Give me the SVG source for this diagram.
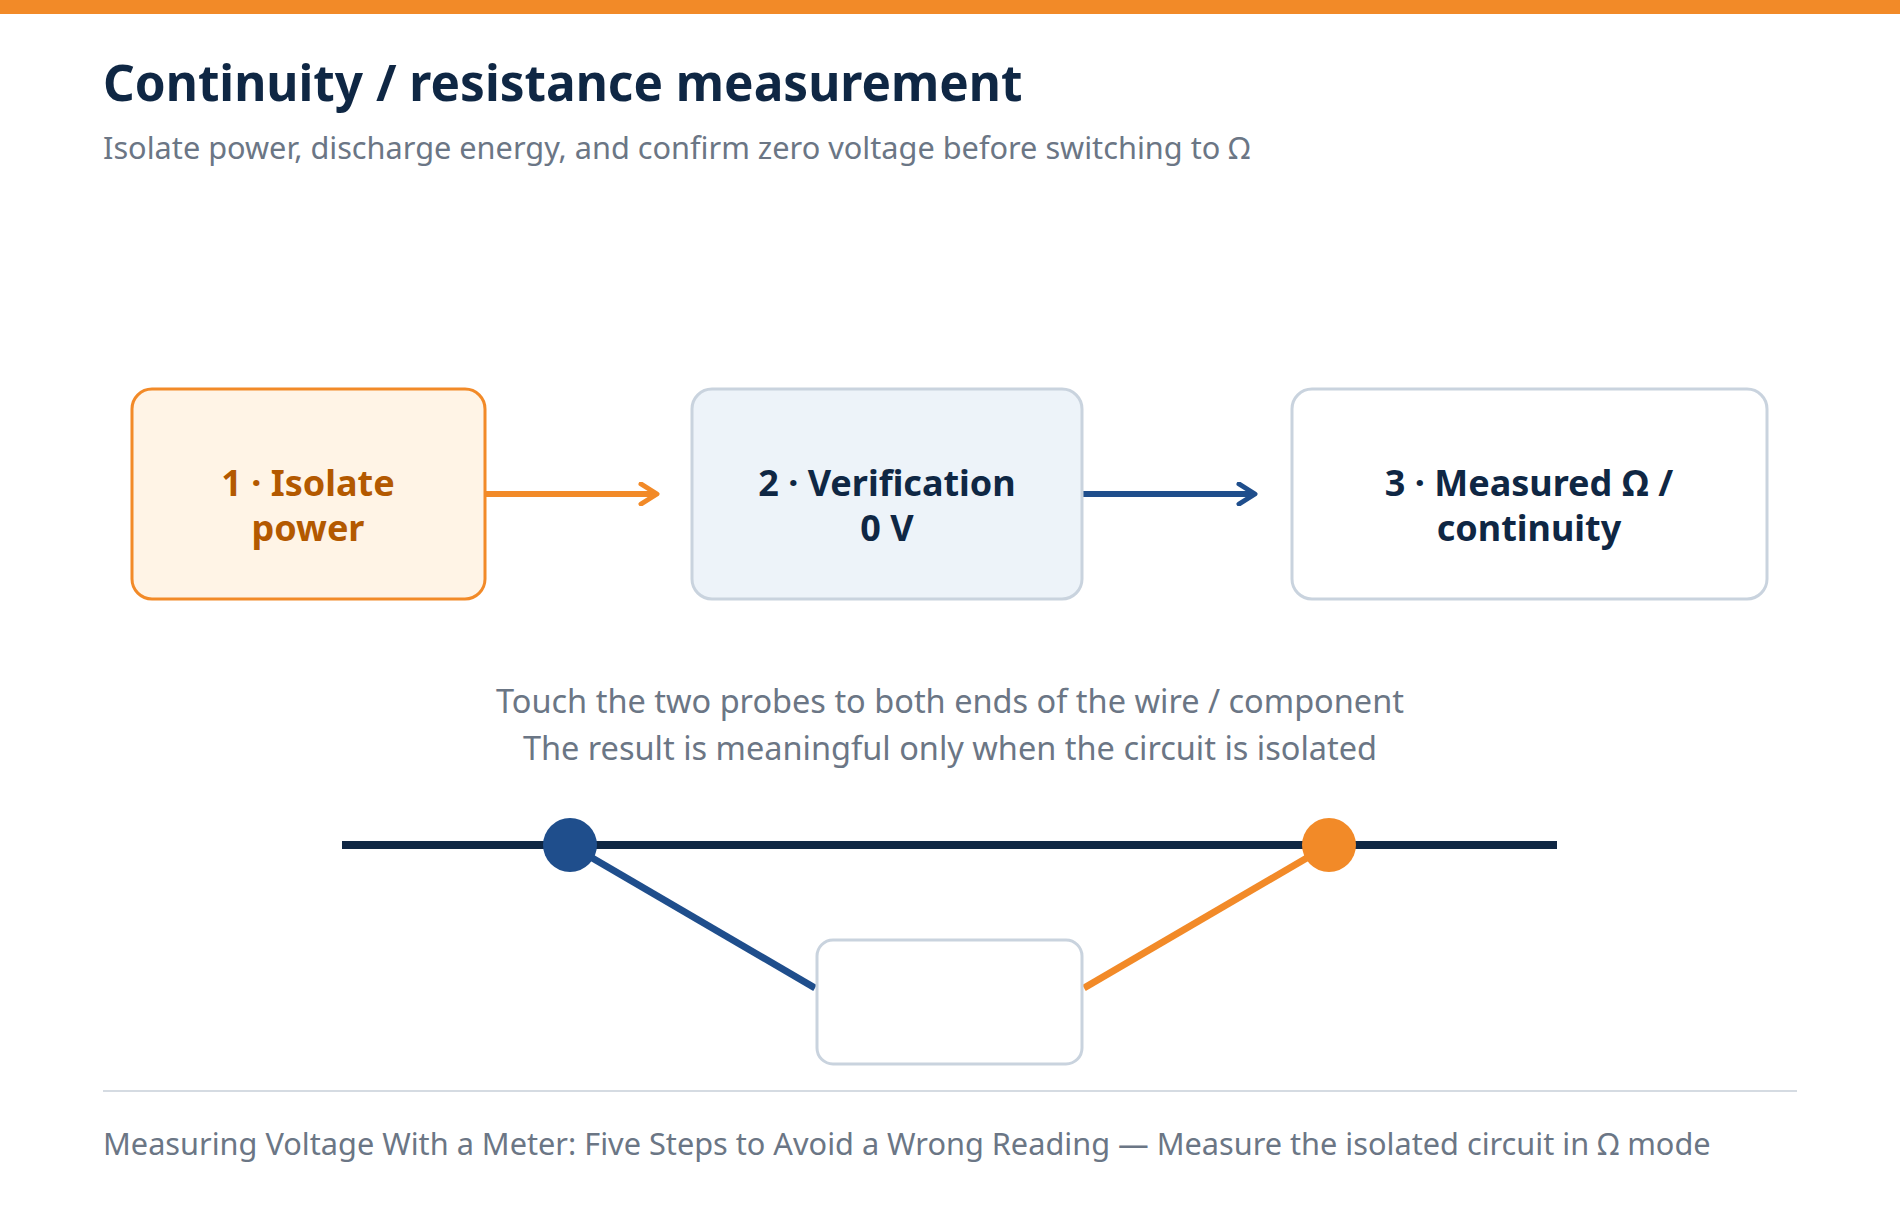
<svg xmlns="http://www.w3.org/2000/svg" width="1900" height="1216" viewBox="0 0 1900 1216">
<style>
.t{font-family:"Noto Sans","Open Sans",sans-serif}
.n{font-weight:bold;font-size:36px;text-anchor:middle}
.g{fill:#6b7685;font-size:30.7px}
.m{font-size:32.5px}
.box{stroke-width:3}
</style>
<defs>
<marker id="ao" viewBox="0 0 12 12" refX="9" refY="6" markerWidth="4" markerHeight="4" orient="auto"><path d="M2,1 L10,6 L2,11" fill="none" stroke="#f28a28" stroke-width="2.5" stroke-linecap="round" stroke-linejoin="round"/></marker>
<marker id="ab" viewBox="0 0 12 12" refX="9" refY="6" markerWidth="4" markerHeight="4" orient="auto"><path d="M2,1 L10,6 L2,11" fill="none" stroke="#1f4e8c" stroke-width="2.5" stroke-linecap="round" stroke-linejoin="round"/></marker>
</defs>
<rect width="1900" height="1216" fill="#fff"/>
<rect width="1900" height="14" fill="#f28a28"/>
<text class="t" x="103" y="101" font-size="49.5" font-weight="bold" fill="#0f2744">Continuity / resistance measurement</text>
<text class="t g" x="103" y="159">Isolate power, discharge energy, and confirm zero voltage before switching to Ω</text>
<g id="connectors">
<line x1="485" y1="494" x2="655" y2="494" stroke="#f28a28" stroke-width="6" marker-end="url(#ao)"/>
<line x1="1082" y1="494" x2="1253" y2="494" stroke="#1f4e8c" stroke-width="6" marker-end="url(#ab)"/>
</g>
<g id="n1"><rect class="box" x="132" y="389" width="353" height="210" rx="20" fill="#fff4e6" stroke="#f28a28"/>
<text class="t n" fill="#b35900"><tspan x="308" y="496">1 · Isolate</tspan><tspan x="308" y="541">power</tspan></text></g>
<g id="n2"><rect class="box" x="692" y="389" width="390" height="210" rx="20" fill="#edf3f9" stroke="#c9d3de"/>
<text class="t n" fill="#0f2744"><tspan x="887" y="496">2 · Verification</tspan><tspan x="887" y="541">0 V</tspan></text></g>
<g id="n3"><rect class="box" x="1292" y="389" width="475" height="210" rx="20" fill="#fff" stroke="#c9d3de"/>
<text class="t n" fill="#0f2744"><tspan x="1529" y="496">3 · Measured Ω /</tspan><tspan x="1529" y="541">continuity</tspan></text></g>
<text class="t g m" text-anchor="middle"><tspan x="950" y="713">Touch the two probes to both ends of the wire / component</tspan><tspan x="950" y="760">The result is meaningful only when the circuit is isolated</tspan></text>
<g id="circuit">
<line x1="342" y1="845" x2="1557" y2="845" stroke="#0f2744" stroke-width="8"/>
<line x1="570" y1="845" x2="815" y2="988" stroke="#1f4e8c" stroke-width="7"/>
<line x1="1329" y1="845" x2="1084" y2="988" stroke="#f28a28" stroke-width="7"/>
<rect class="box" x="817" y="940" width="265" height="124" rx="16" fill="#fff" stroke="#c9d3de"/>
<circle cx="570" cy="845" r="27" fill="#1f4e8c"/>
<circle cx="1329" cy="845" r="27" fill="#f28a28"/>
</g>
<line x1="103" y1="1091" x2="1797" y2="1091" stroke="#d5dbe2" stroke-width="2"/>
<text class="t g" x="103" y="1155">Measuring Voltage With a Meter: Five Steps to Avoid a Wrong Reading — Measure the isolated circuit in Ω mode</text>
</svg>
